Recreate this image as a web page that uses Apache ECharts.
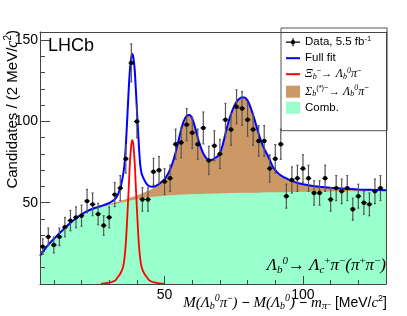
<!DOCTYPE html>
<html><head><meta charset="utf-8">
<script src="https://cdn.jsdelivr.net/npm/echarts@6/dist/echarts.min.js"></script>
<style>html,body{margin:0;padding:0;background:#fff}#c{width:407px;height:316px}</style>
</head><body><div id="c"></div>
<script>
// ---- data ----
const binCenters = [6,8,10,12,14,16,18,20,22,24,26,28,30,32,34,36,38,40,42,44,46,48,50,52,54,56,58,60,62,64,66,68,70,72,74,76,78,80,82,84,86,88,90,92,94,96,98,100,102,104,106,108,110,112,114,116,118,120,122,124,126,128];
const counts = [23,29,24,29,35,39,41,42,51,49,43,36,41,55,59,77,136,100,52,52,69,70,63,65,86,87,98,93,86,96,76,85,80,101,95,109,108,101,95,88,88,71,77,86,54,64,65,71,65,56,56,65,52,59,57,59,46,54,50,49,57,59];

const bgX = [5,6,8,10,12,14,16,18,20,22,24,26,28,30,32,34,36,38,40,42,44,46,48,50,52,54,56,58,59,60,62,64,66,68,70,72,74,76,78,79,80,82,84,86,88,90,92,94,96,98,100,105,110,115,120,125,130];
const combCurve = [17,19.5,24,27.5,31,34.3,37.3,40,42.3,44.2,45.6,46.7,47.6,48.4,49.2,50,50.8,51.5,52.2,52.8,53.3,53.7,54,54.3,54.6,54.8,55,55.1,55.2,55.2,55.3,55.4,55.5,55.6,55.7,55.8,55.9,56,56.1,56.1,56.1,56.2,56.2,56.3,56.4,56.4,56.5,56.5,56.6,56.6,56.7,56.8,56.9,57,57.1,57.2,57.3];
const sigmaBCurve = [0,0.05,0.1,0.1,0.15,0.2,0.2,0.25,0.3,0.35,0.4,0.5,0.6,0.7,0.9,1.1,1.4,1.8,2.3,3,4,5.3,7.3,10,15.7,26.3,40,48,48.8,46.6,35,25,21,22,24.5,37,49,56,58.5,58.8,57,48.5,36.5,27,20,13.5,10.2,8.5,6.7,5.4,4.6,3.2,2.3,1.7,1.3,1.0,0.7];

const xiX = [27,28,30,32,33,34,35,35.5,36,36.5,37,37.5,38,38.35,38.7,39.2,39.7,40.2,40.7,41.2,41.7,42.7,43.7,44.7,46.7,48.7,50];
const xiBCurve = [0,0.3,0.8,2,4,6.3,10.5,15.5,25,40,57,75,86,88.5,86,75,57,40,25,15.5,10.5,6.3,4,2,0.8,0.3,0];

const fitX = [5,6,8,10,12,14,16,18,20,22,24,26,28,30,31,32,33,34,34.5,35,35.5,36,36.5,37,37.5,38,38.35,38.7,39.2,39.7,40.2,40.7,41.2,41.7,42.2,42.7,43.5,44.5,45.5,46.5,47.5,48.5,50,51,52,53,54,55,56,57,58,59,60,61,62,63,64,65,66,67,68,69,70,71,72,73,74,75,76,77,78,79,80,81,82,83,84,85,86,87,88,89,90,91,92,93,94,96,98,100,103,106,110,115,120,125,130];
const fullFitCurve = [17.3,19.7,24.2,27.7,31.2,34.5,37.6,40.4,42.8,44.8,46.3,47.4,48.5,49.8,50.8,52,54.5,59,62.5,67,73,85,101,118,132,139.5,141.5,139.5,132,117.5,101,85.7,73.5,68,65.8,64,61.6,60.2,59.8,60.1,61,62.2,64.5,67,70.5,75,81,88,95,100.5,103.3,104,101.8,96.5,90,84.5,80.3,77.6,76.2,76.2,77.3,78.3,80.5,85.5,92.5,99,104.5,108.8,112,114,114.9,114.7,112.8,109,104,98.3,92.5,87.3,83.3,80,76.4,72.5,70,68.2,66.8,65.8,65,63.4,62.1,61.3,60.4,59.8,59.2,58.6,58.2,57.9,57.7];

const xMajorTicks = [50,100];
const xMinorTicks = [10,20,30,40,50,60,70,80,90,100,110,120,130];
const yMajorTicks = [50,100,150];
const yMinorTicks = [10,20,30,40,50,60,70,80,90,100,110,120,130,140,150];

// ---- styling ----
const GREEN='#99ffcc', BROWN='#cc9966', BLUE='#0000ff', RED='#ff0000', FRAME='#444';
const SANS='Liberation Sans', SERIF='Liberation Serif';
const pairs=(xs,ys)=>xs.map((x,i)=>[x,ys[i]]);
// brown band sits on top of the combinatorial component
const brownTop = bgX.map((x,i)=>[x, combCurve[i] + sigmaBCurve[i]]);
const dataPoints = binCenters.map((x,i)=>[x, counts[i], Math.sqrt(counts[i])]);

function renderPoint(params, api){
  const x=api.value(0), y=api.value(1), e=api.value(2);
  const t=api.coord([x,y+e]), b=api.coord([x,y-e]), l=api.coord([x-1,y]), r=api.coord([x+1,y]), c=api.coord([x,y]);
  const st={stroke:'#555', lineWidth:1.2};
  return {type:'group', children:[
    {type:'line', shape:{x1:c[0],y1:t[1],x2:c[0],y2:b[1]}, style:st},
    {type:'line', shape:{x1:c[0]-1,y1:t[1],x2:c[0]+1,y2:t[1]}, style:st},
    {type:'line', shape:{x1:c[0]-1,y1:b[1],x2:c[0]+1,y2:b[1]}, style:st},
    {type:'line', shape:{x1:l[0],y1:c[1],x2:r[0],y2:c[1]}, style:{stroke:'#000', lineWidth:1.2}},
    {type:'circle', shape:{cx:c[0],cy:c[1],r:2.2}, style:{fill:'#000'}}
  ]};
}

const legendLabels = {
  'Data':'Data, 5.5 fb{sup|-1}',
  'Full fit':'Full fit',
  'Xib':'{g|Ξ}{sub|b}{sup|−}→ {g|Λ}{sub|b}{gsup|0}{g|π}{sup|−}',
  'Sigmab':'{g|Σ}{sub|b}{sup|(*)−}→ {g|Λ}{sub|b}{gsup|0}{g|π}{sup|−}',
  'Comb.':'Comb.'
};
const legendRich = {
  sup:{fontFamily:SANS, fontSize:7.5, lineHeight:12, padding:[0,0,7,0], color:'#000'},
  sub:{fontFamily:SERIF, fontStyle:'italic', fontSize:8, lineHeight:12, padding:[5,0,0,0], color:'#000'},
  gsup:{fontFamily:SERIF, fontStyle:'italic', fontSize:8, lineHeight:12, padding:[0,0,7,0], color:'#000'},
  g:{fontFamily:SERIF, fontStyle:'italic', fontSize:12, lineHeight:12, color:'#000'}
};

const titleRich = {
  mi:{fontFamily:SERIF, fontStyle:'italic', fontSize:15, fill:'#000'},
  gi:{fontFamily:SERIF, fontStyle:'italic', fontSize:15, fill:'#000'},
  pi:{fontFamily:SERIF, fontStyle:'italic', fontSize:15, fill:'#000'},
  n:{fontFamily:SANS, fontSize:14, fill:'#000'},
  sub:{fontFamily:SERIF, fontStyle:'italic', fontSize:10, padding:[7,0,0,0], fill:'#000'},
  supi:{fontFamily:SERIF, fontStyle:'italic', fontSize:10, padding:[0,0,9,0], fill:'#000'},
  sup:{fontFamily:SANS, fontSize:9, padding:[0,0,9,0], fill:'#000'},
  subsup:{fontFamily:SANS, fontSize:7, padding:[4,0,0,0], fill:'#000'}
};
const decayRich = {
  gi:{fontFamily:SERIF, fontStyle:'italic', fontSize:17, fill:'#000'},
  pi:{fontFamily:SERIF, fontStyle:'italic', fontSize:17, fill:'#000'},
  ar:{fontFamily:SERIF, fontSize:17, fill:'#000'},
  sub:{fontFamily:SERIF, fontStyle:'italic', fontSize:11, padding:[8,0,0,0], fill:'#000'},
  supi:{fontFamily:SERIF, fontStyle:'italic', fontSize:11, padding:[0,0,10,0], fill:'#000'},
  sup:{fontFamily:SERIF, fontSize:11, padding:[0,0,10,0], fill:'#000'}
};
const yTitleRich = {
  n:{fontFamily:SANS, fontSize:15, fill:'#000'},
  ci:{fontFamily:SERIF, fontStyle:'italic', fontSize:16, fill:'#000'},
  sup:{fontFamily:SANS, fontSize:10, padding:[0,0,9,0], fill:'#000'}
};

const axBase = {type:'value', min:5, max:130, z:5, splitLine:{show:false}};
const ayBase = {type:'value', min:0, max:155, z:5, splitLine:{show:false}};

const option = {
  animation:false,
  backgroundColor:'#fff',
  grid:{left:40, right:21, top:32, bottom:32, containLabel:false, show:false},
  xAxis:[
    Object.assign({}, axBase, {position:'bottom',
      axisLine:{show:true, onZero:false, lineStyle:{color:FRAME, width:1}},
      axisTick:{show:true, inside:true, length:4, customValues:xMinorTicks, lineStyle:{color:FRAME}},
      axisLabel:{show:true, customValues:xMajorTicks, fontSize:14, fontFamily:SANS, color:'#000', margin:4}}),
    Object.assign({}, axBase, {position:'bottom',
      axisLine:{show:false, onZero:false},
      axisTick:{show:true, inside:true, length:8, customValues:xMajorTicks, lineStyle:{color:FRAME}},
      axisLabel:{show:false}}),
    Object.assign({}, axBase, {position:'top',
      axisLine:{show:true, onZero:false, lineStyle:{color:FRAME, width:1}},
      axisTick:{show:false}, axisLabel:{show:false}})
  ],
  yAxis:[
    Object.assign({}, ayBase, {position:'left',
      axisLine:{show:true, onZero:false, lineStyle:{color:FRAME, width:1}},
      axisTick:{show:true, inside:true, length:5, customValues:yMinorTicks, lineStyle:{color:FRAME}},
      axisLabel:{show:true, customValues:yMajorTicks, fontSize:14, fontFamily:SANS, color:'#000', margin:2}}),
    Object.assign({}, ayBase, {position:'left',
      axisLine:{show:false, onZero:false},
      axisTick:{show:true, inside:true, length:10, customValues:yMajorTicks, lineStyle:{color:FRAME}},
      axisLabel:{show:false}}),
    Object.assign({}, ayBase, {position:'right',
      axisLine:{show:true, onZero:false, lineStyle:{color:FRAME, width:1}},
      axisTick:{show:false}, axisLabel:{show:false}})
  ],
  legend:{
    left:281, top:28, orient:'vertical', selectedMode:false,
    itemWidth:14, itemHeight:12, itemGap:2.5, padding:[6.7,16,17,5],
    borderColor:'#555', borderWidth:1, backgroundColor:'rgba(0,0,0,0)',
    data:[
      {name:'Data', icon:'path://M0,3.4H14V4.6H0Z M6.4,0H7.6V8H6.4Z M9.2,4A2.2,2.2,0,1,1,4.8,4A2.2,2.2,0,1,1,9.2,4Z', itemStyle:{color:'#000', borderWidth:0}},
      {name:'Full fit', icon:'path://M0,0H14V2H0Z', itemStyle:{color:BLUE, borderWidth:0}},
      {name:'Xib', icon:'path://M0,0H14V2H0Z', itemStyle:{color:RED, borderWidth:0}},
      {name:'Sigmab', icon:'rect', itemStyle:{color:BROWN, borderWidth:0}},
      {name:'Comb.', icon:'rect', itemStyle:{color:GREEN, borderWidth:0}}
    ],
    formatter:(n)=>legendLabels[n],
    textStyle:{fontSize:11.5, fontFamily:SANS, color:'#000', lineHeight:12, rich:legendRich}
  },
  series:[
    {name:'Sigmab', type:'line', data:brownTop, symbol:'none', smooth:0.3,
      color:BROWN, lineStyle:{width:0}, areaStyle:{color:BROWN, opacity:1}, z:1, silent:true},
    {name:'Comb.', type:'line', data:pairs(bgX, combCurve), symbol:'none', smooth:0.3,
      color:GREEN, lineStyle:{width:0}, areaStyle:{color:GREEN, opacity:1}, z:2, silent:true},
    {name:'Xib', type:'line', data:pairs(xiX, xiBCurve), symbol:'none', smooth:0.3,
      color:RED, lineStyle:{width:1.8, color:RED}, z:3, silent:true},
    {name:'Full fit', type:'line', data:pairs(fitX, fullFitCurve), symbol:'none', smooth:0.25,
      color:BLUE, lineStyle:{width:2, color:BLUE}, z:4, silent:true},
    {name:'Data', type:'custom', data:dataPoints, renderItem:renderPoint, color:'#000',
      encode:{x:0, y:1}, z:6, silent:true}
  ],
  graphic:[
    {type:'text', x:48, y:46, z:10, style:{text:'LHCb', fontFamily:SANS, fontSize:18, fill:'#000', align:'left', verticalAlign:'middle'}},
    {type:'text', x:386, y:266, z:10, style:{
      text:'{gi|Λ}{sub|b}{supi|0}{ar|→ }{gi|Λ}{sub|c}{sup|+}{gi|π}{sup|−}{pi|(}{gi|π}{sup|+}{gi|π}{sup|−}{pi|)}',
      align:'right', verticalAlign:'middle', rich:decayRich, fontFamily:SERIF, fontSize:17, fill:'#000'}},
    {type:'text', x:387, y:303, z:10, style:{
      text:'{mi|M}{pi|(}{gi|Λ}{sub|b}{supi|0}{gi|π}{sup|−}{pi|)}{n| − }{mi|M}{pi|(}{gi|Λ}{sub|b}{supi|0}{pi|)}{n| − }{mi|m}{sub|π}{subsup|−}{n| [MeV/}{mi|c}{sup|2}{n|]}',
      align:'right', verticalAlign:'middle', rich:titleRich, fontFamily:SANS, fontSize:14, fill:'#000'}},
    {type:'text', x:12.5, y:30, rotation:Math.PI/2, z:10, style:{
      text:'{n|Candidates / (2 MeV/}{ci|c}{sup|2}{n|)}',
      align:'right', verticalAlign:'middle', rich:yTitleRich, fontFamily:SANS, fontSize:15, fill:'#000'}}
  ]
};
const chart = echarts.init(document.getElementById('c'));
chart.setOption(option);
</script></body></html>
